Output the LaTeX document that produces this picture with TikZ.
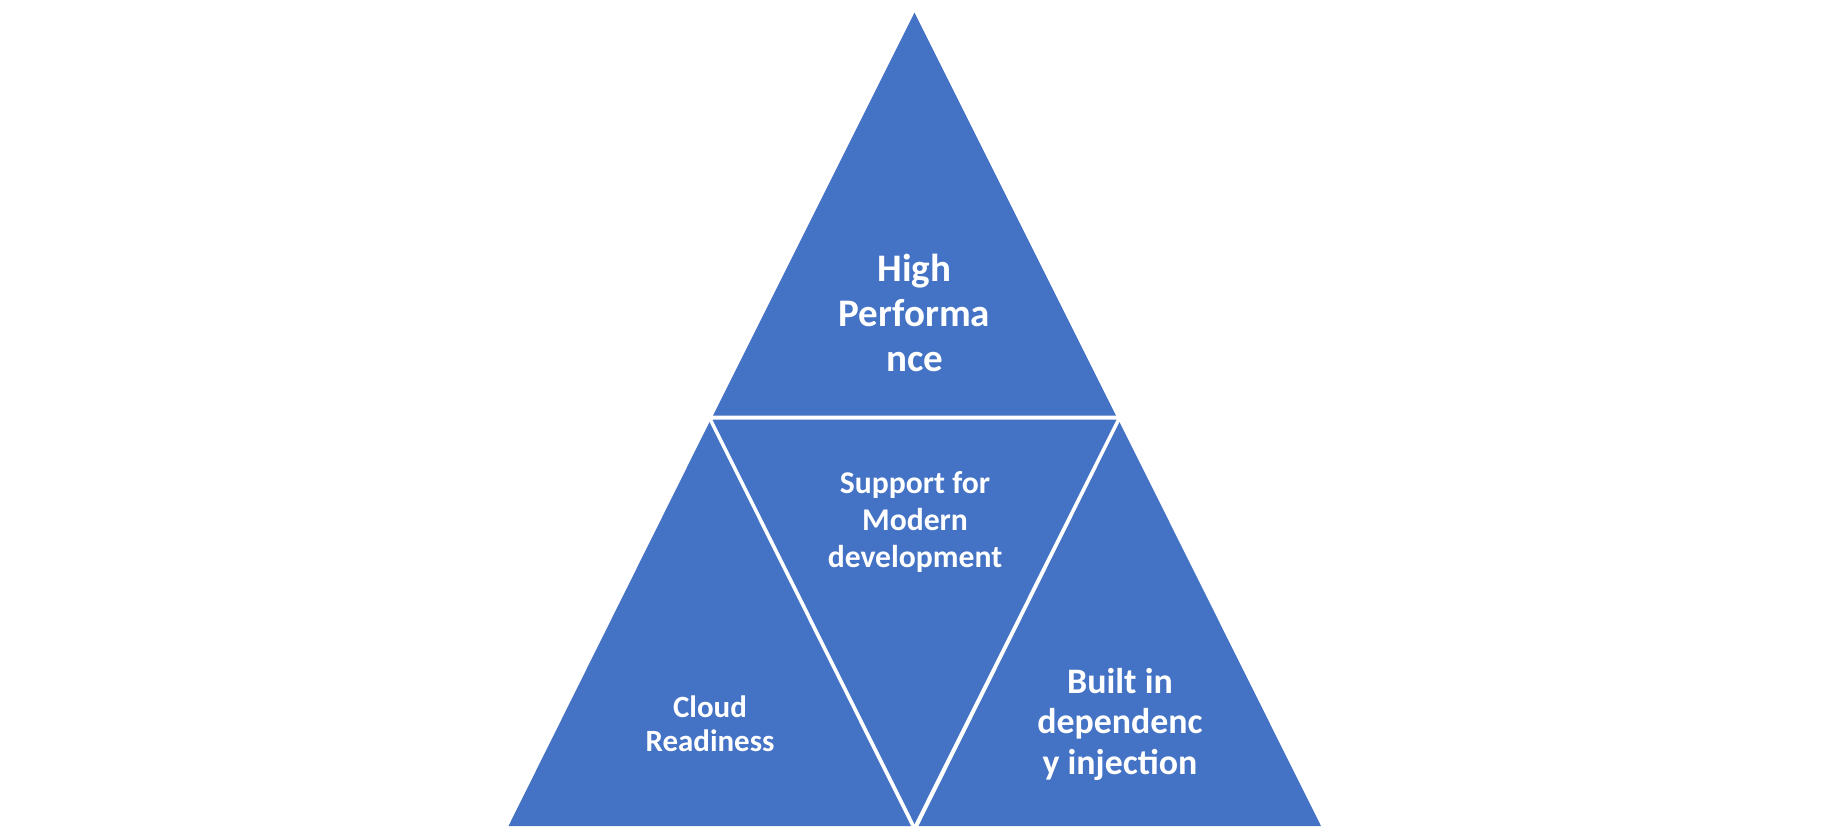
\documentclass[tikz,border=0pt]{standalone}
\usepackage{fontspec}
\setmainfont{Carlito}
\usepackage{tikz}
\usetikzlibrary{positioning}
\definecolor{officeblue}{HTML}{4472C4}

\begin{document}
\begin{tikzpicture}[x=0.01cm, y=-0.01cm,
  piece/.style={fill=officeblue},
  label/.style={text=white, align=center, inner sep=0pt, font=\bfseries}]
  \useasboundingbox (0,0) rectangle (1829,835);

  % outer triangles
  \fill[piece] (914.5,12.5) -- (1116,415.5) -- (713,415.5) -- cycle;
  \fill[piece] (709.5,422) -- (911,826) -- (508.5,826) -- cycle;
  \fill[piece] (1119.5,422) -- (1321,826) -- (918.5,826) -- cycle;

  % inner (upside down) triangle
  \fill[piece] (712.5,419.5) -- (1116.5,419.5) -- (914.5,824) -- cycle;

  % texts
  \node[label, font=\bfseries\fontsize{11.1}{12.8}\selectfont] (perf) at (914.5,313) {High\\Performa\\nce};
  \node[label, font=\bfseries\fontsize{9}{10.5}\selectfont] (modern) at (915,522) {Support for\\Modern\\development};
  \node[label, font=\bfseries\fontsize{8.8}{9.8}\selectfont] (cloud) at (710,724) {Cloud\\Readiness};
  \node[label, font=\bfseries\fontsize{10.2}{11.5}\selectfont] (di) at (1120,724) {Built in\\dependenc\\y injection};
\end{tikzpicture}
\end{document}
